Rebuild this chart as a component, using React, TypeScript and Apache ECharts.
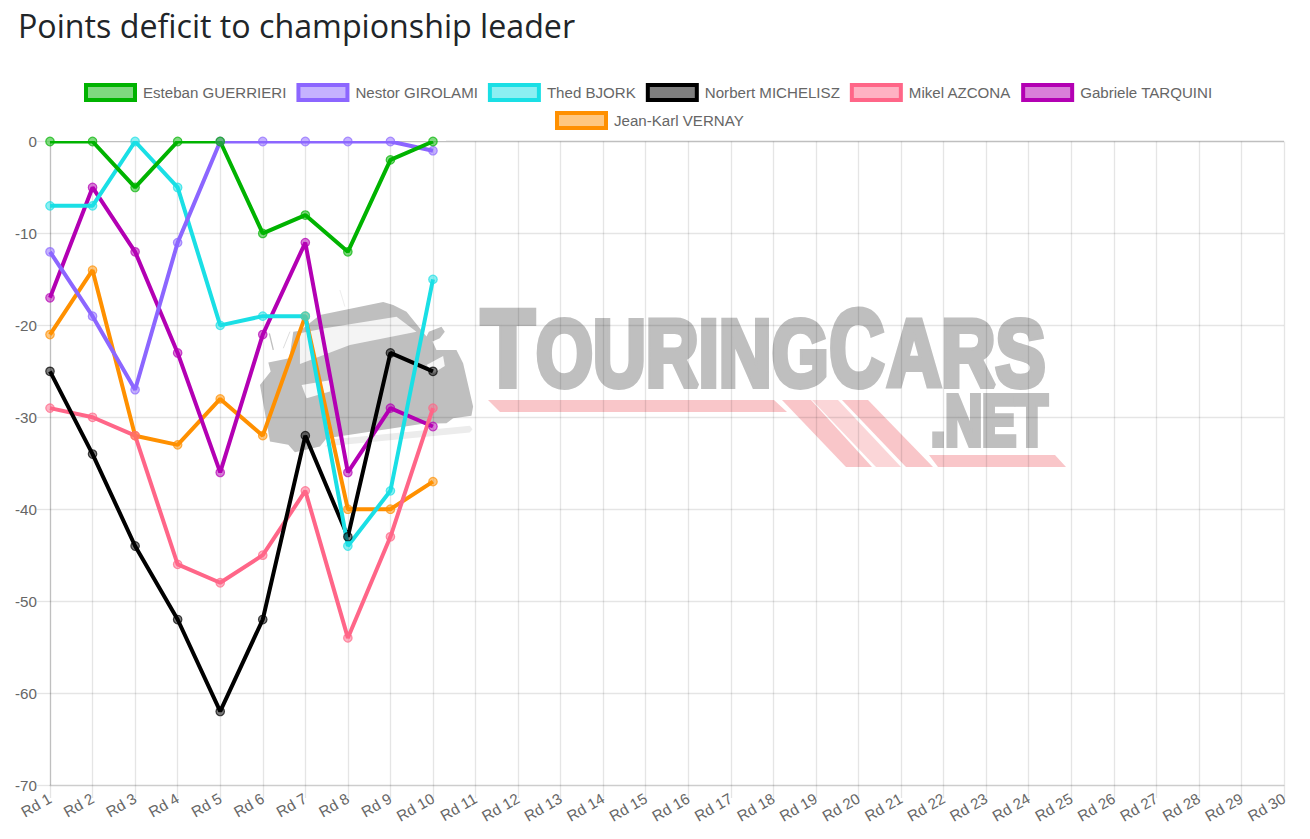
import React, { useEffect, useRef } from "react";
import * as echarts from "echarts";

const rounds = Array.from({ length: 30 }, (_, i) => `Rd ${i + 1}`);
const yTicksCount = 8;

const guerrieri = [0, 0, -5, 0, 0, -10, -8, -12, -2, 0];
const girolami = [-12, -19, -27, -11, 0, 0, 0, 0, 0, -1];
const bjork = [-7, -7, 0, -5, -20, -19, -19, -44, -38, -15];
const michelisz = [-25, -34, -44, -52, -62, -52, -32, -43, -23, -25];
const azcona = [-29, -30, -32, -46, -48, -45, -38, -54, -43, -29];
const tarquini = [-17, -5, -12, -23, -36, -21, -11, -36, -29, -31];
const vernay = [-21, -14, -32, -33, -28, -32, -19, -40, -40, -37];

const drivers = [
  { name: "Esteban GUERRIERI", rgb: "0,179,0", values: guerrieri },
  { name: "Nestor GIROLAMI", rgb: "140,102,255", values: girolami },
  { name: "Thed BJORK", rgb: "26,223,229", values: bjork },
  { name: "Norbert MICHELISZ", rgb: "0,0,0", values: michelisz },
  { name: "Mikel AZCONA", rgb: "255,102,136", values: azcona },
  { name: "Gabriele TARQUINI", rgb: "179,0,179", values: tarquini },
  { name: "Jean-Karl VERNAY", rgb: "255,144,0", values: vernay },
];

const FONT = "'Liberation Sans', Arial, sans-serif";
const GRID = "rgba(0,0,0,0.1)";
const ZERO = "rgba(0,0,0,0.25)";
const WM = "#bfbfbf";
const STRIPE = "#f9c6c9";
const STRIPE_LIGHT = "#fbd6d8";

const CAR_BODY =
  "M30 285 L62 245 L55 218 L118 205 L130 125 L150 122 L210 75 L400 36 L430 45 L470 65 L530 140 L537 125 L575 110 L585 125 L570 145 L548 155 L560 180 L620 180 L640 220 L670 350 L665 378 L610 385 L590 400 L520 402 L230 445 L210 470 L135 487 L115 465 L60 455 Z";
echarts.graphic.registerShape("carBody", echarts.graphic.extendPath(CAR_BODY, {}));

function wmText(text: string, x: number, y: number, size: number, scaleX: number) {
  return {
    type: "text",
    z: -1,
    x,
    y,
    scaleX,
    silent: true,
    style: {
      text,
      fontFamily: FONT,
      fontWeight: "bold",
      fontSize: size,
      fill: WM,
      stroke: WM,
      lineWidth: 6,
      align: "left",
      verticalAlign: "middle",
    },
  };
}

function poly(points: number[][], fill: string) {
  return { type: "polygon", z: -1, silent: true, shape: { points }, style: { fill } };
}

function legendFor(items: typeof drivers, left: number, top: number) {
  return {
    left,
    top,
    padding: 0,
    orient: "horizontal",
    itemWidth: 49,
    itemHeight: 15,
    itemGap: 10,
    selectedMode: false,
    textStyle: { color: "#666", fontSize: 15.1, fontFamily: FONT, padding: [0, 0, 4, 3] },
    data: items.map((d) => ({
      name: d.name,
      icon: "rect",
      itemStyle: {
        color: `rgba(${d.rgb},0.5)`,
        borderColor: `rgb(${d.rgb})`,
        borderWidth: 4,
        opacity: 1,
      },
    })),
  };
}

export default function App() {
  const ref = useRef<HTMLDivElement>(null);
  useEffect(() => {
    const chart = echarts.init(ref.current!, undefined, { renderer: "svg" });
    const reversed = [...drivers].reverse();
    const carChildren = [
      {
        type: "polygon",
        silent: true,
        z: -1,
        shape: { points: [[250, 448], [660, 408], [668, 418], [660, 428], [225, 470]] },
        style: { fill: "#ececec" },
      },
      { type: "carBody", silent: true, z: -1, style: { fill: WM } },
      {
        type: "polygon",
        silent: true,
        z: -1,
        shape: { points: [[150, 130], [225, 115], [440, 80], [500, 125], [300, 165], [150, 222]] },
        style: { fill: "#f4f4f4" },
      },
      {
        type: "polygon",
        silent: true,
        z: -1,
        shape: { points: [[155, 285], [245, 270], [240, 305], [170, 325]] },
        style: { fill: "#f8f8f8" },
      },
      {
        type: "polygon",
        silent: true,
        z: -1,
        shape: { points: [[530, 225], [580, 198], [585, 228], [550, 250]] },
        style: { fill: "#f8f8f8" },
      },
      {
        type: "line",
        silent: true,
        z: -1,
        shape: { x1: 58, y1: 130, x2: 70, y2: 180 },
        style: { stroke: WM, lineWidth: 4 },
      },
      {
        type: "line",
        silent: true,
        z: -1,
        shape: { x1: 100, y1: 175, x2: 120, y2: 125 },
        style: { stroke: "#dddddd", lineWidth: 3 },
      },
      {
        type: "line",
        silent: true,
        z: -1,
        shape: { x1: 270, y1: 0, x2: 285, y2: 50 },
        style: { stroke: "#e4e4e4", lineWidth: 2 },
      },
    ];

    chart.setOption({
      animation: false,
      title: {
        text: "Points deficit to championship leader",
        left: 13,
        top: 4,
        textStyle: {
          fontFamily: "'Open Sans', sans-serif",
          fontWeight: 400,
          fontSize: 32.2,
          color: "#212529",
        },
      },
      legend: [legendFor(drivers.slice(0, 6), 84, 83), legendFor(drivers.slice(6), 555, 111)],
      grid: { left: 50, right: 26, top: 141.5, bottom: 839 - 785 },
      xAxis: {
        type: "category",
        data: rounds,
        boundaryGap: false,
        axisLine: { onZero: false, show: true, lineStyle: { color: GRID, width: 1.33 } },
        axisTick: { show: true, length: 13, alignWithLabel: true, lineStyle: { color: GRID, width: 1.33 } },
        axisLabel: {
          interval: 0,
          rotate: 30,
          margin: 12,
          color: "#666",
          fontSize: 15.2,
          fontFamily: FONT,
          hideOverlap: false,
        },
        splitLine: {
          show: true,
          lineStyle: { color: rounds.map((_, i) => (i === 0 ? ZERO : GRID)), width: 1.33 },
        },
      },
      yAxis: {
        type: "value",
        min: -70,
        max: 0,
        interval: 10,
        axisLine: { show: false },
        axisTick: { show: true, length: 13, lineStyle: { color: GRID, width: 1.33 } },
        axisLabel: { margin: 13, color: "#666", fontSize: 15.2, fontFamily: FONT },
        splitLine: {
          show: true,
          lineStyle: {
            color: Array.from({ length: yTicksCount }, (_, i) => (i === yTicksCount - 1 ? ZERO : GRID)),
            width: 1.33,
          },
        },
      },
      graphic: {
        elements: [
          {
            type: "group",
            x: 250,
            y: 290,
            scaleX: 1 / 3,
            scaleY: 1 / 3,
            silent: true,
            children: carChildren,
          },
          wmText("T", 481, 348, 110, 0.8),
          wmText("OURING", 536, 353, 95, 0.77),
          wmText("C", 829, 348, 110, 0.7),
          wmText("ARS", 887, 353, 95, 0.79),
          wmText(".NET", 931, 421, 70, 0.73),
          poly([[488, 400], [774, 400], [787, 412], [500, 412]], STRIPE),
          poly([[782, 400], [811, 400], [872, 467], [846, 467]], STRIPE),
          poly([[812, 400], [838, 400], [901, 467], [876, 467]], STRIPE_LIGHT),
          poly([[842, 400], [868, 400], [933, 467], [906, 467]], STRIPE),
          poly([[929, 455], [1055, 455], [1066, 467], [938, 467]], STRIPE),
          // Chart.js clips lines to the plot area; keep the upper half of lines on 0 hidden
          {
            type: "rect",
            z: 3,
            silent: true,
            shape: { x: 46, y: 135, width: 400, height: 6 },
            style: { fill: "#fff" },
          },
        ],
      },
      series: [
        ...reversed.map((d) => ({
          name: d.name,
          type: "line",
          z: 2,
          data: d.values,
          showSymbol: false,
          symbol: "none",
          lineStyle: { color: `rgb(${d.rgb})`, width: 4 },
          itemStyle: { color: `rgb(${d.rgb})` },
          emphasis: { disabled: true },
        })),
        ...reversed.map((d) => ({
          name: d.name,
          type: "scatter",
          z: 4,
          data: d.values,
          symbolSize: 8.5,
          clip: false,
          itemStyle: {
            color: `rgba(${d.rgb},0.5)`,
            borderColor: `rgba(${d.rgb},0.7)`,
            borderWidth: 1.2,
            opacity: 1,
          },
          emphasis: { disabled: true },
        })),
      ],
    });
    return () => chart.dispose();
  }, []);
  return (
    <div
      ref={ref}
      style={{ position: "absolute", left: 0, top: 0, width: 1310, height: 839, background: "#fff" }}
    />
  );
}
